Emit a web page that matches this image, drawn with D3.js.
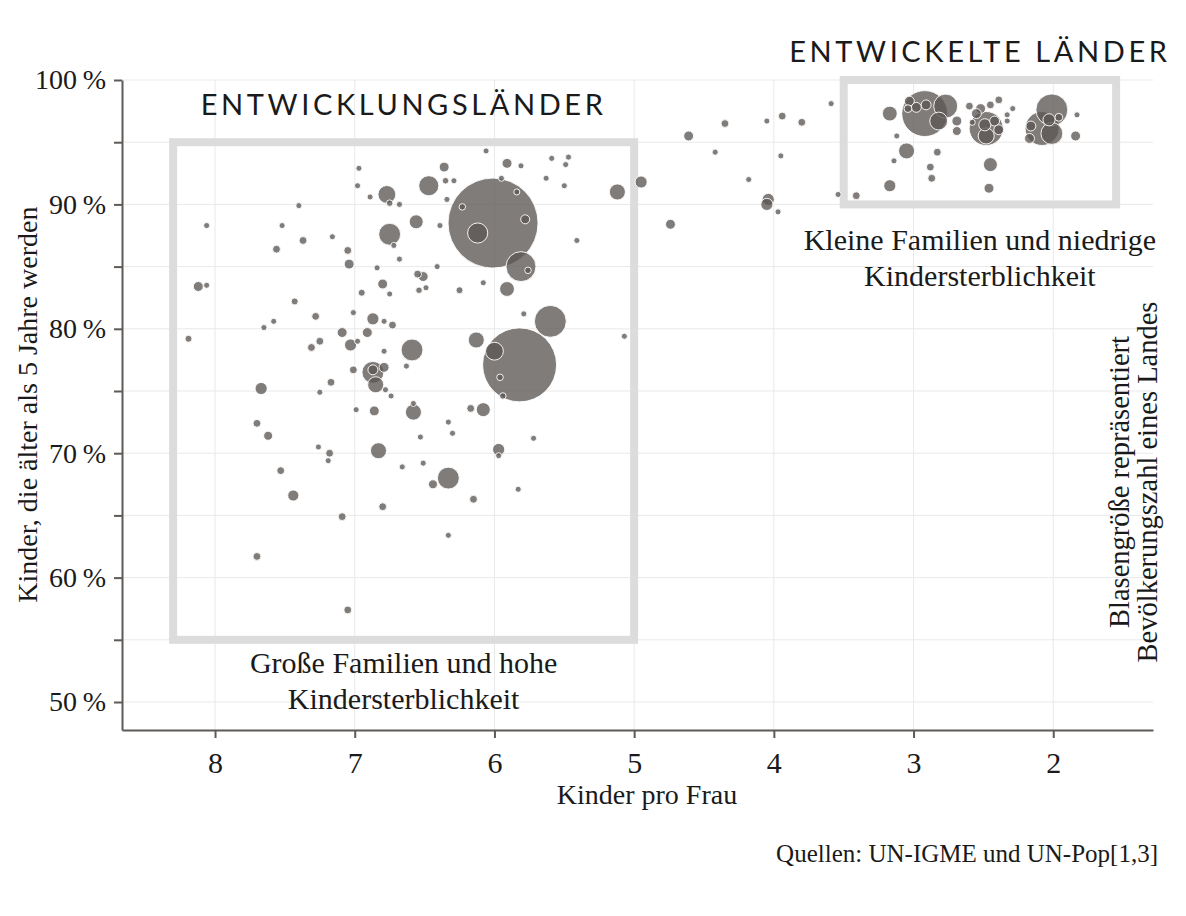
<!DOCTYPE html>
<html>
<head>
<meta charset="utf-8">
<script src="https://cdn.jsdelivr.net/npm/d3@7"></script>
<style>
  body { margin: 0; background: #fff; }
  text { font-family: "Liberation Serif", serif; fill: #1a1a1a; }
  .grid line { stroke: #e9e9e9; stroke-width: 1; }
  .axis path, .axis line { stroke: #5e5a57; stroke-width: 2; }
  .axis text { font-size: 28px; }
  .title { font-family: Lato, sans-serif; font-weight: 400; font-size: 29px; letter-spacing: 3.6px; }
  .note { font-size: 30px; }
</style>
</head>
<body>
<script>
// values: fertility (children per woman),
// share of children surviving past age 5 (%), population (millions)
const fertility = [
  6.06, 6.36, 6.97, 6.47, 6.35, 6.29, 6.98, 6.77, 6.75, 6.68,
  6.89, 6.34, 6.23, 6.12, 7.40, 8.06, 7.52, 6.56, 6.75, 6.72,
  6.39, 7.37, 7.56, 7.16, 7.05, 7.04, 6.68, 6.84, 6.41, 6.55,
  6.51, 6.80, 6.75, 6.54, 6.49, 6.25, 6.08, 8.12, 8.06, 6.95,
  7.43, 8.19, 7.58, 7.65, 7.28, 7.01, 6.87, 6.79, 6.73, 7.09,
  6.91, 7.03, 6.98, 7.31, 7.25, 6.59, 6.79, 6.63, 6.13, 7.01,
  6.87, 6.87, 6.79, 6.85, 6.78, 6.74, 7.17, 7.25, 7.67, 6.99,
  6.86, 6.58, 6.58, 6.33, 6.30, 6.17, 6.08, 7.70, 7.62, 7.26,
  7.18, 7.19, 6.83, 6.53, 6.66, 6.51, 6.33, 6.44, 6.15, 7.53,
  7.44, 7.09, 6.80, 6.33, 7.70, 7.05, 6.01, 5.84, 5.78, 5.81,
  5.76, 5.91, 5.79, 5.60, 5.82, 6.00, 5.96, 5.94, 5.91, 5.81,
  5.59, 5.47, 5.49, 5.63, 5.50, 5.95, 5.12, 4.95, 5.41, 5.07,
  5.72, 5.83, 5.97, 5.97,
  4.61, 4.35, 4.42, 4.18, 4.05, 3.94, 3.80, 3.95, 3.59, 4.04,
  4.05, 3.97, 3.54, 3.41, 4.74,
  3.17, 2.92, 3.03, 3.04, 2.98, 2.91, 2.77, 2.82, 2.69, 2.69,
  3.12, 3.05, 3.14, 2.83, 2.88, 2.87, 3.17, 2.48, 2.60, 2.52,
  2.45, 2.39, 2.29, 2.33, 2.33, 2.42, 2.39, 2.49, 2.55, 2.58,
  2.48, 2.45, 2.46, 2.01, 2.08, 2.01, 2.03, 1.96, 2.16, 2.17,
  1.83, 1.84
];
const survival = [
  94.3, 93.0, 92.9, 91.5, 91.9, 91.9, 91.5, 90.8, 90.1, 90.0,
  90.6, 90.4, 89.8, 87.7, 89.9, 88.3, 88.3, 88.6, 87.6, 86.7,
  88.3, 87.1, 86.4, 87.4, 86.3, 85.2, 85.6, 84.9, 85.0, 84.4,
  84.2, 83.6, 82.8, 83.1, 83.3, 83.1, 83.7, 83.4, 83.5, 82.9,
  82.2, 79.2, 80.6, 80.1, 81.0, 81.3, 80.8, 80.6, 80.3, 79.7,
  79.7, 78.7, 79.0, 78.5, 79.0, 78.3, 78.2, 77.0, 79.1, 76.7,
  76.5, 76.7, 76.9, 75.5, 75.1, 74.6, 75.7, 74.9, 75.2, 73.5,
  73.4, 73.3, 74.0, 72.5, 71.6, 73.6, 73.5, 72.4, 71.4, 70.5,
  70.0, 69.4, 70.2, 71.3, 68.9, 69.2, 68.0, 67.5, 66.3, 68.6,
  66.6, 64.9, 65.7, 63.4, 61.7, 57.4, 88.5, 91.0, 88.8, 85.0,
  84.7, 83.2, 81.2, 80.6, 77.1, 78.2, 76.1, 74.6, 93.3, 93.1,
  93.7, 93.8, 93.2, 92.1, 91.5, 92.1, 91.0, 91.8, 87.1, 79.4,
  71.2, 67.1, 70.3, 69.8,
  95.5, 96.5, 94.2, 92.0, 96.7, 97.1, 96.6, 93.9, 98.1, 90.4,
  90.0, 89.4, 90.8, 90.7, 88.4,
  97.3, 97.3, 98.3, 97.7, 97.8, 98.0, 97.9, 96.7, 96.7, 95.9,
  95.5, 94.3, 93.5, 94.2, 93.0, 92.1, 91.5, 96.1, 97.9, 97.7,
  98.0, 98.4, 97.7, 97.2, 96.7, 96.7, 96.0, 96.4, 97.3, 96.6,
  95.5, 93.2, 91.3, 97.6, 96.1, 95.7, 96.8, 97.0, 96.3, 95.3,
  97.2, 95.5
];
const population = [
  3, 8, 3, 33, 3.5, 3, 3, 26, 3.5, 3,
  3, 3, 3.5, 33, 3, 3, 3, 16, 39, 3,
  3, 5, 5, 3, 5, 8, 3, 3, 3, 5,
  8, 8, 3, 3.5, 3, 4, 3, 8, 3, 4,
  4, 4, 3, 3, 5, 3, 12, 3, 5, 8,
  8, 12, 3, 5, 5, 39, 3, 3, 21, 5,
  39, 8, 8, 21, 3, 3, 5, 3, 12, 3,
  8, 21, 3, 3, 3, 5, 16, 5, 6.6, 3,
  5, 3, 21, 3, 3, 3, 39, 6.6, 5, 5,
  10, 5, 5, 3, 5, 5, 660, 3, 6.6, 73,
  3.5, 18, 3, 83, 446, 26, 3.5, 3.5, 8, 3,
  3, 3, 3, 3, 3, 3, 21, 12, 3, 3,
  3, 3, 12, 3,
  8, 5, 3, 3, 3, 5, 5, 3, 3, 12,
  12, 3, 3, 5, 8,
  18, 172, 8, 5, 8, 8, 47, 26, 8, 6.6,
  3, 21, 3, 5, 5, 5, 12, 94, 5, 8,
  5, 5, 3, 3, 3, 8, 8, 12, 8, 3,
  21, 16, 8, 83, 94, 39, 12, 5, 8, 8,
  3, 8
];

const xTicks = [8, 7, 6, 5, 4, 3, 2];
const yTicks = [50, 55, 60, 65, 70, 75, 80, 85, 90, 95, 100];

const countries = fertility.map((f, i) => ({f: f, s: survival[i], pop: population[i]}));

let margin = null, width = null, height = null;
let root = null, svg = null;
let x, y, r = null;

setupCanvasSize();
appendSvg("body");
setupScales();
appendGrid();
appendBoxes();
appendAxes();
appendBubbles();
appendTexts();

function setupCanvasSize() {
  margin = {top: 80, left: 122, bottom: 186, right: 33};
  width = 1186 - margin.left - margin.right;
  height = 916 - margin.top - margin.bottom;
}

function appendSvg(domElement) {
  root = d3.select(domElement).append("svg")
    .attr("width", 1186)
    .attr("height", 916);
  svg = root.append("g")
    .attr("transform", `translate(${margin.left}, ${margin.top})`);
}

function setupScales() {
  x = d3.scaleLinear().domain([8.666, 1.286]).range([0, width]);
  y = d3.scaleLinear().domain([47.75, 100]).range([height, 0]);
  r = d3.scaleSqrt().domain([0, d3.max(population)]).range([0, 45]);
}

function appendGrid() {
  const g = svg.append("g").attr("class", "grid");
  g.selectAll(".gx").data(xTicks).enter().append("line")
    .attr("x1", d => x(d)).attr("x2", d => x(d))
    .attr("y1", 0).attr("y2", height);
  g.selectAll(".gy").data(yTicks).enter().append("line")
    .attr("x1", 0).attr("x2", width)
    .attr("y1", d => y(d)).attr("y2", d => y(d));
}

function appendBoxes() {
  // the two highlighted regions
  const boxes = [
    {x0: 8.3, x1: 5.0, y0: 55, y1: 95},
    {x0: 3.5, x1: 1.55, y0: 90, y1: 100}
  ];
  svg.selectAll(".box").data(boxes).enter().append("rect")
    .attr("x", d => x(d.x0))
    .attr("y", d => y(d.y1))
    .attr("width", d => x(d.x1) - x(d.x0))
    .attr("height", d => y(d.y0) - y(d.y1))
    .style("fill", "none")
    .style("stroke", "#dcdcdc")
    .style("stroke-width", 8);
}

function appendAxes() {
  svg.append("g")
    .attr("class", "axis")
    .attr("transform", `translate(0, ${height})`)
    .call(d3.axisBottom(x).tickValues(xTicks).tickSize(8).tickPadding(14).tickSizeOuter(0))
    .selectAll("text").style("font-size", "30px");

  svg.append("g")
    .attr("class", "axis")
    .call(d3.axisLeft(y).tickValues(yTicks).tickSize(8).tickPadding(8).tickSizeOuter(0)
      .tickFormat(d => d % 10 === 0 ? d + "\u2009%" : ""));
}

function appendBubbles() {
  const sorted = countries.slice().sort((a, b) => b.pop - a.pop);
  svg.selectAll(".bubble").data(sorted).enter().append("circle")
    .attr("class", "bubble")
    .attr("cx", d => x(d.f))
    .attr("cy", d => y(d.s))
    .attr("r", d => r(d.pop))
    .style("fill", "rgb(92,87,84)")
    .style("fill-opacity", 0.78)
    .style("stroke", "#fff")
    .style("stroke-width", 0.9);
}

function appendTexts() {
  const b1 = (x(8.3) + x(5.0)) / 2 + margin.left;
  const b2 = (x(3.5) + x(1.55)) / 2 + margin.left;

  root.append("text").attr("class", "title")
    .attr("x", b1).attr("y", 115).attr("text-anchor", "middle")
    .text("ENTWICKLUNGSLÄNDER");
  root.append("text").attr("class", "title")
    .attr("x", b2).attr("y", 62).attr("text-anchor", "middle")
    .text("ENTWICKELTE LÄNDER");

  const note1 = root.append("text").attr("class", "note").attr("text-anchor", "middle");
  note1.append("tspan").attr("x", b1).attr("y", 673).text("Große Familien und hohe");
  note1.append("tspan").attr("x", b1).attr("y", 709).text("Kindersterblichkeit");

  const note2 = root.append("text").attr("class", "note").attr("text-anchor", "middle");
  note2.append("tspan").attr("x", b2).attr("y", 250).text("Kleine Familien und niedrige");
  note2.append("tspan").attr("x", b2).attr("y", 286).text("Kindersterblichkeit");

  const side = root.append("text").attr("class", "note").attr("text-anchor", "middle")
    .style("font-size", "28.5px")
    .attr("transform", "translate(1129, 482) rotate(-90)");
  side.append("tspan").attr("x", 0).attr("y", 0).text("Blasengröße repräsentiert");
  side.append("tspan").attr("x", 0).attr("y", 28).text("Bevölkerungszahl eines Landes");

  root.append("text").attr("class", "note")
    .style("font-size", "28px")
    .attr("x", 647).attr("y", 804).attr("text-anchor", "middle")
    .text("Kinder pro Frau");

  root.append("text").attr("class", "note")
    .style("font-size", "28px")
    .attr("transform", `translate(37, ${margin.top + y(73.9)}) rotate(-90)`)
    .attr("text-anchor", "middle")
    .text("Kinder, die älter als 5 Jahre werden");

  root.append("text")
    .attr("x", 1158).attr("y", 862).attr("text-anchor", "end")
    .style("font-size", "25px")
    .text("Quellen: UN-IGME und UN-Pop[1,3]");
}
</script>
</body>
</html>
